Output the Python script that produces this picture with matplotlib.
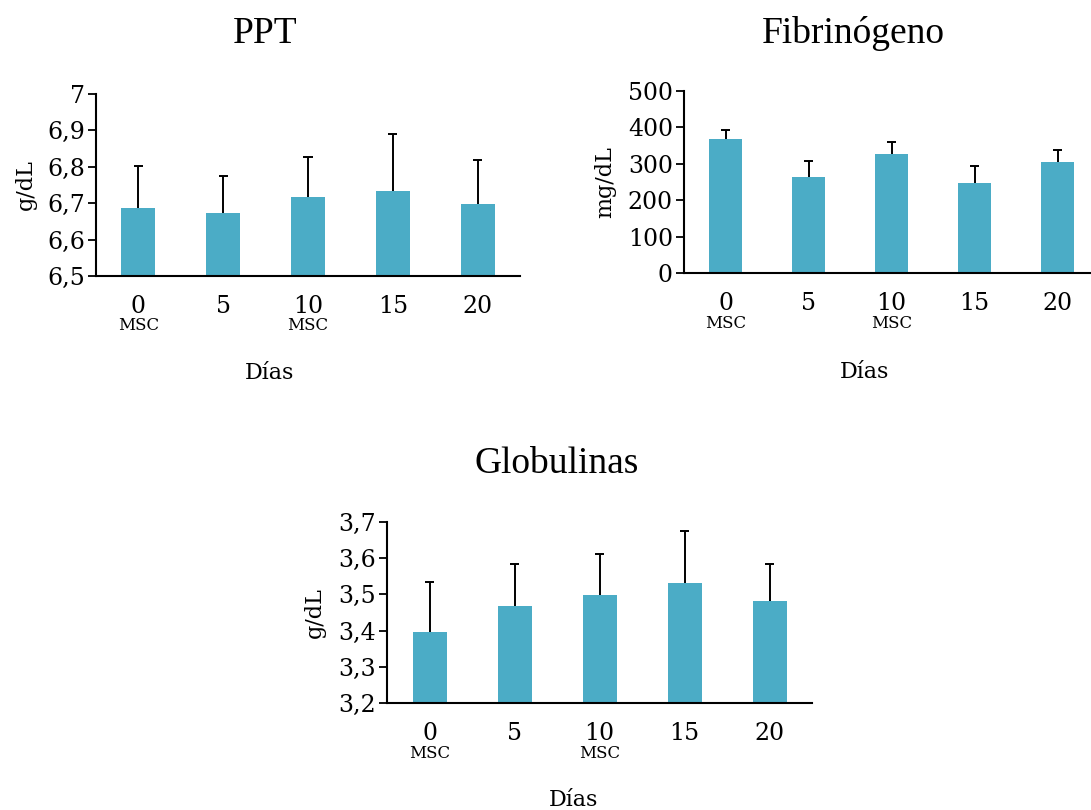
"""
plot.py -- proteinas plasmaticas (PPT, fibrinogeno, globulinas) por dia.
"""
import matplotlib
matplotlib.use("Agg")
import matplotlib.pyplot as plt

days = ["0", "5", "10", "15", "20"]
msc_days = [0, 2]  # posiciones con aplicacion de MSC

ppt_mean = [6.687, 6.672, 6.716, 6.733, 6.699]
ppt_err = [0.116, 0.103, 0.111, 0.158, 0.120]
ppt_ticks = [6.5, 6.6, 6.7, 6.8, 6.9, 7.0]
ppt_ticklabels = ["6,5", "6,6", "6,7", "6,8", "6,9", "7"]

fib_mean = [367, 264, 328, 246, 305]
fib_err = [25, 45, 33, 49, 32]
fib_ticks = [0, 100, 200, 300, 400, 500]
fib_ticklabels = ["0", "100", "200", "300", "400", "500"]

glob_mean = [3.397, 3.469, 3.497, 3.532, 3.483]
glob_err = [0.137, 0.116, 0.115, 0.142, 0.102]
glob_ticks = [3.2, 3.3, 3.4, 3.5, 3.6, 3.7]
glob_ticklabels = ["3,2", "3,3", "3,4", "3,5", "3,6", "3,7"]

BAR_COLOR = "#4BACC6"
SERIF = "DejaVu Serif"
TITLE_FONT = "Liberation Serif"

W, H = 1091, 810
fig = plt.figure(figsize=(W / 100, H / 100), dpi=100)


def panel(rect, title, title_xy, mean, err, ticks, ticklabels, ylabel,
          ylabel_x, dias_xy):
    ax = fig.add_axes(rect)
    x = list(range(len(days)))
    top = [m + e for m, e in zip(mean, err)]
    ax.bar(x, mean, width=0.4, color=BAR_COLOR, zorder=2)
    # solo la mitad superior del error, con remate arriba
    ax.vlines(x, mean, top, color="black", linewidth=1.4, zorder=3)
    ax.hlines(top, [i - 0.055 for i in x], [i + 0.055 for i in x],
              color="black", linewidth=1.4, zorder=3)
    ax.set_xlim(-0.5, len(days) - 0.5)
    ax.set_ylim(ticks[0], ticks[-1])
    ax.set_yticks(ticks)
    ax.set_yticklabels(ticklabels, fontsize=17, family=SERIF)
    ax.set_xticks(x)
    ax.set_xticklabels(days, fontsize=17, family=SERIF)
    ax.tick_params(axis="x", length=0, pad=14)
    ax.tick_params(axis="y", length=6, width=1.3, pad=2)
    for s in ["top", "right"]:
        ax.spines[s].set_visible(False)
    for s in ["left", "bottom"]:
        ax.spines[s].set_linewidth(1.5)

    for i in msc_days:
        ax.annotate("MSC", xy=(i, 0), xycoords=("data", "axes fraction"),
                    xytext=(0, -36), textcoords="offset points",
                    ha="center", va="center", fontsize=12, family=SERIF)

    ax.text(ylabel_x, 0.5, ylabel, transform=ax.transAxes, rotation=90,
            ha="center", va="center", fontsize=16, family=SERIF)
    ax.text(dias_xy[0], dias_xy[1], "Días", transform=ax.transAxes,
            ha="center", va="center", fontsize=16, family=SERIF)
    fig.text(title_xy[0] / W, 1 - title_xy[1] / H, title, ha="center",
             va="baseline", fontsize=27, family=TITLE_FONT)
    return ax


panel([96 / W, 1 - 276 / H, 424 / W, 182 / H], "PPT", (265, 43),
      ppt_mean, ppt_err, ppt_ticks, ppt_ticklabels, "g/dL",
      -0.165, (0.41, -0.533))

panel([684 / W, 1 - 273 / H, 415 / W, 182 / H], "Fibrinógeno", (853, 43),
      fib_mean, fib_err, fib_ticks, fib_ticklabels, "mg/dL",
      -0.19, (0.434, -0.544))

panel([387 / W, 1 - 703 / H, 425 / W, 181 / H], "Globulinas", (557, 473),
      glob_mean, glob_err, glob_ticks, glob_ticklabels, "g/dL",
      -0.169, (0.438, -0.536))

fig.savefig("out.png", dpi=100)
